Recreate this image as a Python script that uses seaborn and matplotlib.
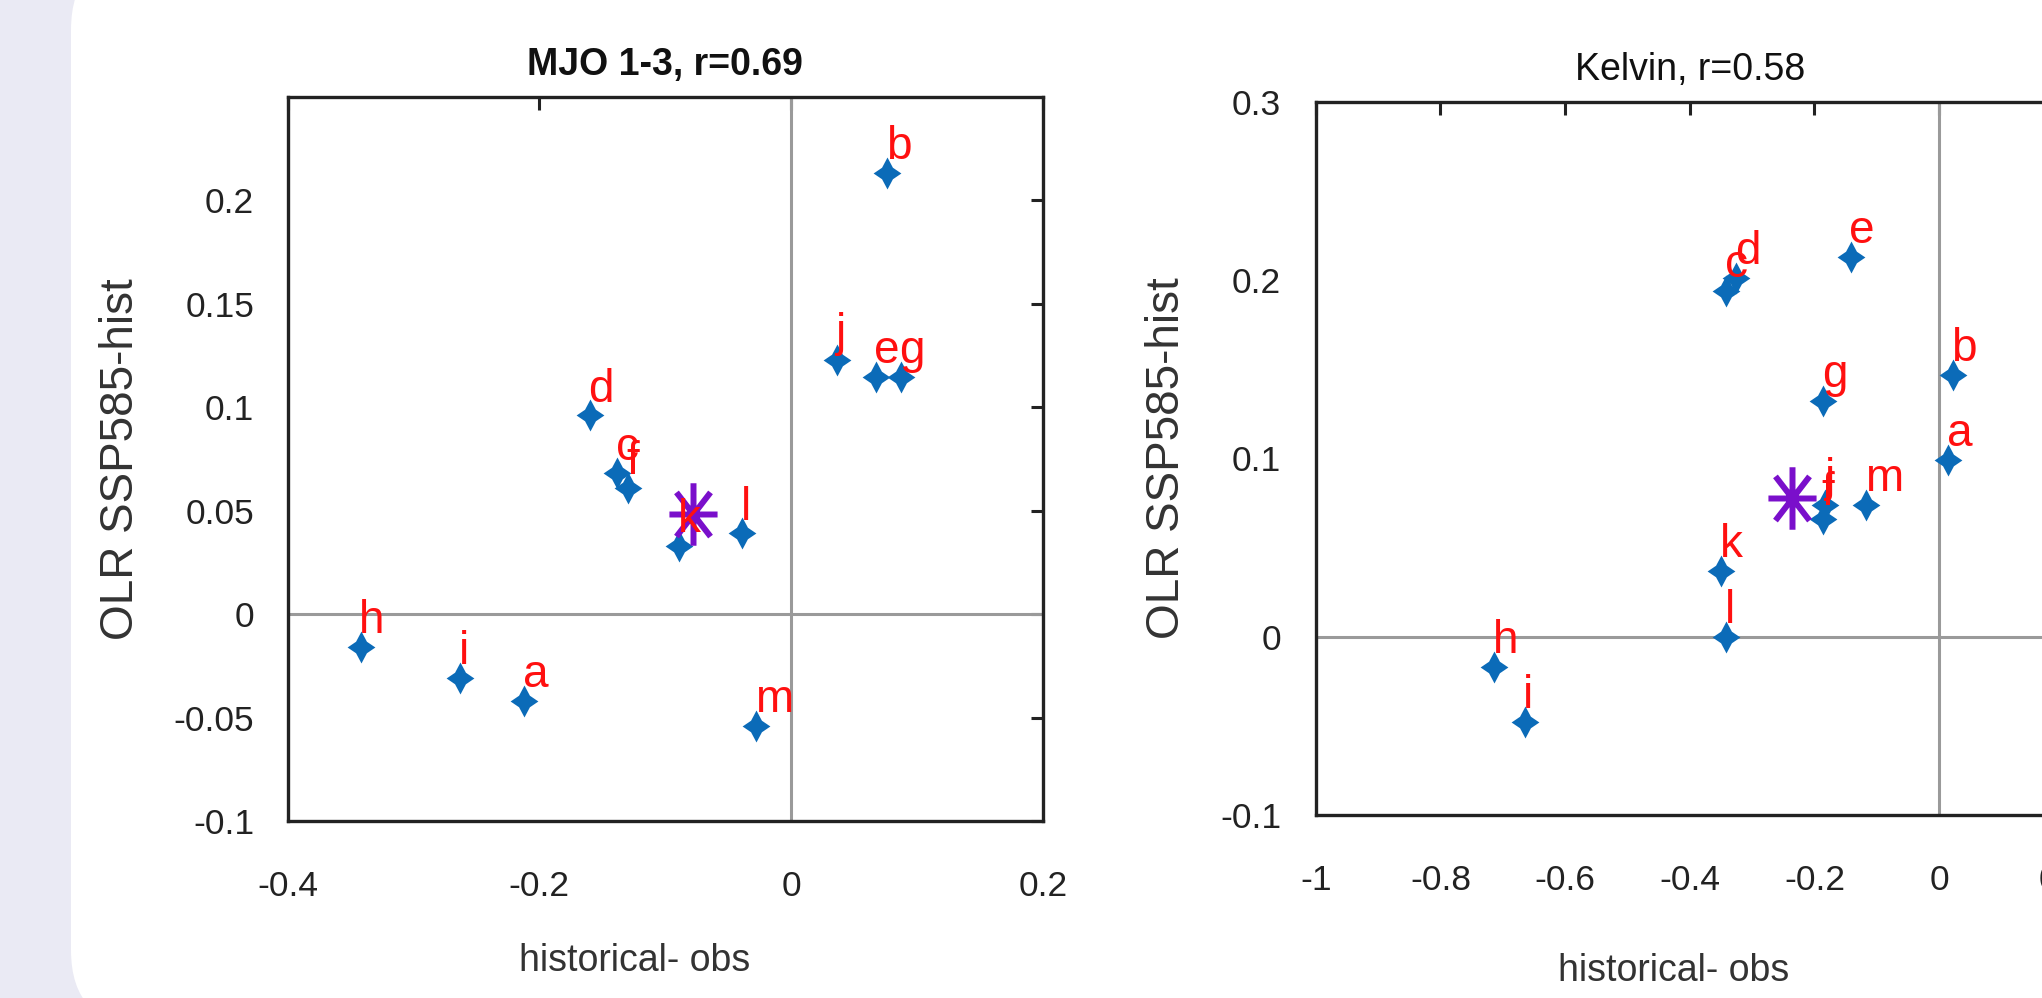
import numpy as np
import matplotlib
matplotlib.use('Agg')
import matplotlib.pyplot as plt
from matplotlib.patches import FancyBboxPatch
from matplotlib.path import Path
from matplotlib.ticker import FuncFormatter
import seaborn as sns

sns.set_style('white')
plt.rcParams['font.family'] = ['Liberation Sans', 'DejaVu Sans']
plt.rcParams['axes.unicode_minus'] = False

# Data

MODELS = list('abcdefghijklm')

MJO_HIST = [-0.212, 0.076, -0.138, -0.160, 0.067, -0.130, 0.087,
            -0.342, -0.263, 0.036, -0.089, -0.039, -0.028]
MJO_FUT = [-0.042, 0.213, 0.068, 0.096, 0.1145, 0.061, 0.1145,
           -0.016, -0.031, 0.123, 0.033, 0.039, -0.054]
MJO_MEAN = (-0.078, 0.0486)

KELVIN_HIST = [0.015, 0.022, -0.342, -0.325, -0.142, -0.186, -0.186,
               -0.714, -0.665, -0.183, -0.350, -0.342, -0.117]
KELVIN_FUT = [0.099, 0.147, 0.194, 0.201, 0.213, 0.066, 0.132,
              -0.017, -0.048, 0.074, 0.037, 0.0, 0.074]
KELVIN_MEAN = (-0.236, 0.078)

MJO_XTICKS = [-0.4, -0.2, 0, 0.2]
MJO_YTICKS = [-0.1, -0.05, 0, 0.05, 0.1, 0.15, 0.2]
KELVIN_XTICKS = [-1, -0.8, -0.6, -0.4, -0.2, 0, 0.2]
KELVIN_YTICKS = [-0.1, 0, 0.1, 0.2, 0.3]

BLUE = '#0B6BB8'
PURPLE = '#7A0FCB'
ZERO_GREY = '#9A9A9A'
INK = '#222222'

# Markers: fat four-point star, and an eight-arm asterisk

diamond_star = Path([(0, 1), (0.34, 0.36), (0.87, 0), (0.34, -0.36), (0, -1),
                     (-0.34, -0.36), (-0.87, 0), (-0.34, 0.36), (0, 1)],
                    closed=True)
asterisk = Path([(0, -1), (0, 1), (-0.77, 0), (0.77, 0),
                 (-0.545, -0.707), (0.545, 0.707), (-0.545, 0.707), (0.545, -0.707)],
                [Path.MOVETO, Path.LINETO] * 4)

fmt = FuncFormatter(lambda v, _: f'{v:g}')


def draw_panel(ax, hist, fut, mean, title, xlim, ylim, xticks, yticks,
               ypad, xlab_pos, ylab_x, title_bold):
    ax.axhline(0, color=ZERO_GREY, lw=2.2, zorder=1)
    ax.axvline(0, color=ZERO_GREY, lw=2.2, zorder=1)

    sns.scatterplot(x=hist, y=fut, marker=diamond_star, s=23 ** 2,
                    color=BLUE, edgecolor=BLUE, linewidth=0, ax=ax, zorder=3)

    for name, x, y in zip(MODELS, hist, fut):
        ax.annotate(name, (x, y), xytext=(-1, 10), textcoords='offset points',
                    color='#FF1010', fontsize=33, ha='left', va='baseline',
                    zorder=5)

    sns.scatterplot(x=[mean[0]], y=[mean[1]], marker=asterisk, s=45 ** 2,
                    color=PURPLE, edgecolor=PURPLE, linewidth=4.3,
                    ax=ax, zorder=4)

    ax.set_xlim(*xlim)
    ax.set_ylim(*ylim)
    ax.set_xticks(xticks)
    ax.set_yticks(yticks)
    ax.xaxis.set_major_formatter(fmt)
    ax.yaxis.set_major_formatter(fmt)
    ax.tick_params(direction='in', length=9, width=2.2, top=True, right=True,
                   color=INK, labelcolor=INK, labelsize=25.5)
    ax.tick_params(axis='y', pad=ypad)
    ax.tick_params(axis='x', pad=35)
    for sp in ax.spines.values():
        sp.set_color(INK)
        sp.set_linewidth(2.4)

    ax.set_title(title, fontsize=27, pad=16, color='#111111',
                 fontweight='bold' if title_bold else 'normal')
    ax.set_xlabel('historical- obs', fontsize=27, color='#333333', va='center')
    ax.set_ylabel('OLR SSP585-hist', fontsize=33, color='#333333', va='center')
    ax.xaxis.set_label_coords(*xlab_pos)
    ax.yaxis.set_label_coords(ylab_x, 0.5)
    ax.set_facecolor('white')


fig = plt.figure(figsize=(20.42, 9.98), dpi=100, facecolor='#EAEAF4')
fig.patches.append(FancyBboxPatch((0.71, -0.28), 21.0, 10.72,
                                  boxstyle='round,pad=0,rounding_size=0.76',
                                  transform=fig.dpi_scale_trans,
                                  facecolor='white', edgecolor='none', zorder=-10))

ax1 = fig.add_axes([0.1408, 0.1773, 0.3700, 0.7257])
ax2 = fig.add_axes([0.6444, 0.1834, 0.3662, 0.7146])

draw_panel(ax1, MJO_HIST, MJO_FUT, MJO_MEAN, 'MJO 1-3, r=0.69',
           (-0.4, 0.2), (-0.1, 0.25), MJO_XTICKS, MJO_YTICKS,
           ypad=24, xlab_pos=(0.46, -0.193), ylab_x=-0.2205, title_bold=True)
draw_panel(ax2, KELVIN_HIST, KELVIN_FUT, KELVIN_MEAN, 'Kelvin, r=0.58',
           (-1, 0.2), (-0.1, 0.3), KELVIN_XTICKS, KELVIN_YTICKS,
           ypad=25, xlab_pos=(0.479, -0.219), ylab_x=-0.199, title_bold=False)

for ax in (ax1, ax2):
    leg = ax.get_legend()
    if leg is not None:
        leg.remove()

fig.savefig('out.png', dpi=100, facecolor=fig.get_facecolor())
